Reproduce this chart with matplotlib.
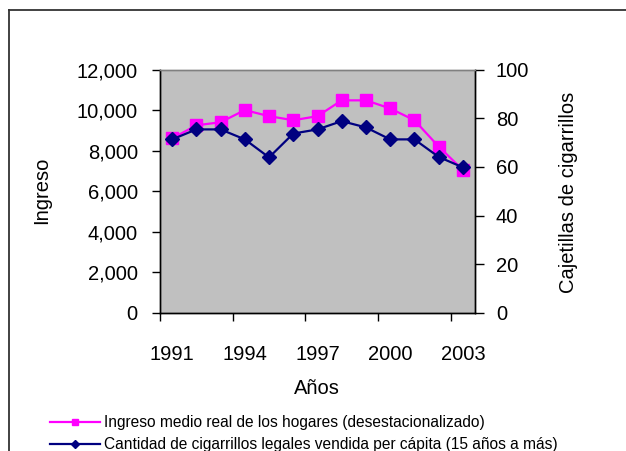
import matplotlib
matplotlib.use("Agg")
import matplotlib.pyplot as plt
from matplotlib.lines import Line2D

years = [1991, 1992, 1993, 1994, 1995, 1996, 1997, 1998, 1999, 2000, 2001, 2002, 2003]
ingreso = [8600, 9250, 9400, 10000, 9700, 9500, 9700, 10480, 10480, 10080, 9500, 8200, 7050]
cajetillas = [71.3, 75.4, 75.4, 71.3, 63.9, 73.7, 75.4, 78.8, 76.2, 71.3, 71.3, 64.1, 59.8]
label_years = [1991, 1994, 1997, 2000, 2003]
left_ticks = [0, 2000, 4000, 6000, 8000, 10000, 12000]
right_ticks = [0, 20, 40, 60, 80, 100]
legend_labels = ["Ingreso medio real de los hogares (desestacionalizado)",
                 "Cantidad de cigarrillos legales vendida per cápita (15 años a más)"]

plt.rcParams['font.family'] = ['Liberation Sans', 'DejaVu Sans']

W, H = 626, 451
fig = plt.figure(figsize=(W / 100, H / 100), dpi=100)
fig.patch.set_facecolor('white')

ax = fig.add_axes([160 / W, 1 - 313 / H, 315 / W, 243.5 / H])
ax.set_facecolor('#C0C0C0')
x = list(range(len(years)))

ax.plot(x, ingreso, color='#FF00FF', lw=1.6, marker='s', ms=8, mfc='#FF00FF', mec='#FF00FF', zorder=3)
ax.set_ylim(0, 12000)
ax.set_yticks(left_ticks)
ax.set_yticklabels([f"{v:,}" for v in left_ticks])
ax.set_xlim(-0.5, len(years) - 0.5)
ax.set_xticks([-0.5, 2.5, 5.5, 8.5, 11.5])
ax.set_xticklabels([])
ax.set_xticks([years.index(y) for y in label_years], minor=True)
ax.set_xticklabels([str(y) for y in label_years], minor=True)
ax.tick_params(axis='x', which='major', direction='out', length=6, width=1, color='black')
ax.tick_params(axis='x', which='minor', length=0, pad=23, labelsize=14.5)
ax.tick_params(axis='y', direction='out', length=6, width=1, pad=10, labelsize=14.5)

ax2 = ax.twinx()
ax2.plot(x, cajetillas, color='#000080', lw=1.6, marker='D', ms=7, mfc='#000080', mec='#000080', zorder=3)
ax2.set_ylim(0, 100)
ax2.set_yticks(right_ticks)
ax2.tick_params(axis='y', direction='out', length=6.5, width=1, pad=8.5, labelsize=14.5)

for a in (ax, ax2):
    for s in ('left', 'right', 'bottom'):
        a.spines[s].set_color('black')
        a.spines[s].set_linewidth(1.0)
    a.spines['top'].set_color('#808080')
    a.spines['top'].set_linewidth(1.0)

fig.text(42 / W, 1 - 190 / H, "Ingreso", rotation=90, ha='center', va='center', fontsize=14.5)
fig.text(568 / W, 1 - 192 / H, "Cajetillas de cigarrillos", rotation=90, ha='center', va='center', fontsize=14.5)
fig.text(317 / W, 1 - 388 / H, "Años", ha='center', va='center', fontsize=14.5)

# legend
colors = ['#FF00FF', '#000080']
markers = ['s', 'D']
ys = [422, 444]
for lab, c, m, yy in zip(legend_labels, colors, markers, ys):
    yf = 1 - yy / H
    fig.add_artist(Line2D([50 / W, 100 / W], [yf, yf], color=c, lw=1.6, transform=fig.transFigure))
    fig.add_artist(Line2D([75 / W], [yf], color=c, marker=m, ms=5 if m == 's' else 4.5, mfc=c, mec=c,
                          transform=fig.transFigure))
    fig.text(104 / W, yf, lab, ha='left', va='center', fontsize=11.2)

# outer chart border (partially visible)
fig.add_artist(Line2D([9 / W, 9 / W], [0, 1 - 10 / H], color='#333333', lw=1.3, transform=fig.transFigure))
fig.add_artist(Line2D([9 / W, 1], [1 - 10 / H, 1 - 10 / H], color='#333333', lw=1.3, transform=fig.transFigure))

fig.savefig("out.png", dpi=100)
